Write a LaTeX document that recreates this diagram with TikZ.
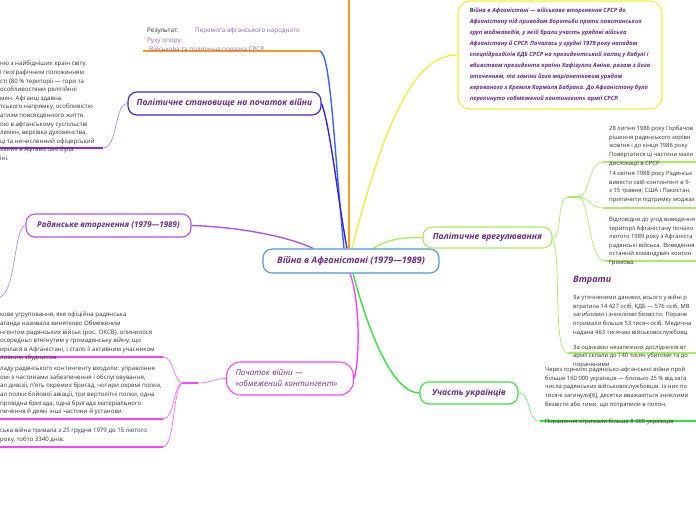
\documentclass[tikz,border=0pt]{standalone}
\usepackage{fontspec}
\setmainfont{Open Sans}
\definecolor{tpurple}{HTML}{6A2C8E}
\definecolor{txt}{HTML}{303030}
\definecolor{lpurple}{HTML}{8E5CC0}
\definecolor{dgreen}{HTML}{1E4A2C}
\definecolor{corange}{HTML}{FF9C1A}
\definecolor{cblue}{HTML}{3366FF}
\definecolor{cindigo}{HTML}{3A22E0}
\definecolor{cyellow}{HTML}{F0F03A}
\definecolor{cviolet}{HTML}{B050FF}
\definecolor{cviodark}{HTML}{A020E8}
\definecolor{cviolight}{HTML}{A890FF}
\definecolor{cmagenta}{HTML}{FF40FF}
\definecolor{cgreen}{HTML}{33E633}
\definecolor{clime}{HTML}{A5F05A}
\definecolor{ccentral}{HTML}{4A98D8}
\pgfdeclarelayer{bg}
\pgfsetlayers{bg,main}
\tikzset{
  topic/.style={draw, fill=white, line width=1.1pt, rounded corners=9pt, inner sep=0pt,
    font=\fontsize{8.5}{10.5}\selectfont\bfseries\itshape, text=tpurple},
  small/.style={inner sep=0pt, anchor=north west, align=left,
    font=\fontsize{6.1}{8.6}\selectfont, text=txt},
  rsmall/.style={small, font=\fontsize{5.85}{8.6}\selectfont},
  conn/.style={line width=1.4pt},
  thinc/.style={line width=0.7pt},
  uline/.style={line width=1.8pt},
}
\begin{document}
\begin{tikzpicture}[x=1pt,y=-1pt]
\useasboundingbox (0,0) rectangle (696,520);

% ---------- main topics ----------
\node[topic, draw=ccentral, minimum width=176pt, minimum height=24pt,
  font=\fontsize{9}{11}\selectfont\bfseries\itshape] (c) at (351,261) {Війна в Афганістані (1979—1989)};
\node[topic, draw=cindigo, minimum width=193pt, minimum height=23pt] (pol) at (224.5,103.5) {Політичне становище на початок війни};
\node[topic, draw=cviolet, minimum width=165pt, minimum height=23pt,
  font=\fontsize{8}{10}\selectfont\bfseries\itshape] (rad) at (108.5,225.5) {Радянське вторгнення (1979—1989)};
\node[topic, draw=cmagenta, minimum width=127pt, minimum height=33pt, rounded corners=14pt,
  align=left, text width=109pt, font=\fontsize{8}{11}\selectfont\itshape] (poch) at (290,378.5) {Початок війни —\\«обмежений контингент»};
\node[topic, draw=cgreen, minimum width=98pt, minimum height=22pt] (uch) at (469,393) {Участь українців};
\node[topic, draw=clime, minimum width=129pt, minimum height=21pt] (vreg) at (487.5,237.5) {Політичне врегулювання};
\node[topic, draw=cyellow, minimum width=204pt, minimum height=108pt, rounded corners=12pt,
  align=left, font=\fontsize{5.8}{11}\selectfont\bfseries\itshape] (yel) at (560,55)
  {{\upshape\color{dgreen}В}ійна в Афганістані — військове вторгнення СРСР до\\
   Афганістану під приводом боротьби проти повстанських\\
   груп моджахедів, у якій брали участь урядові війська\\
   Афганістану й СРСР. Почалась у грудні 1979 року нападом\\
   спецпідрозділів КДБ СРСР на президентський палац у Кабулі і\\
   вбивством президента країни Хафізулли Аміна, разом з його\\
   оточенням, та заміни його маріонетковим урядом\\
   керованого з Кремля Кармаля Бабрака. До Афганістану було\\
   перекинуто «обмежений контингент» армії СРСР.};

% ---------- top: result ----------
\node[small, font=\fontsize{6.3}{9.5}\selectfont] (res) at (147,28) {Результат:};
\node[small, font=\fontsize{6.3}{9.5}\selectfont, text=lpurple] (per) at (195,28) {Перемога афганського народного};
\node[small, font=\fontsize{6.3}{9.5}\selectfont, text=lpurple] (ruh) at (147,38) {Руху опору.};
\node[small, font=\fontsize{6.3}{9.5}\selectfont, text=lpurple] (viy) at (149,47) {Військова та політична поразка СРСР.};
\coordinate (ul0a) at (143,51);
\coordinate (ul0b) at (320,51);
\coordinate (otop) at (349,-3);

% ---------- left top text ----------
\node[small] (lt) at (0,61) {ню з найбідніших країн світу.\\
 і географічним положенням\\
 сті (80 \% території — гори та\\
 особливостями релігійної\\
 мен. Афганці здавна\\
 тського напрямку, особливістю\\
 атизм повсякденного життя.\\
 ою в афганському суспільстві\\
 лемен, верхівка духовенства,\\
 ці та нечисленний офіцерський\\
 ханих в Афганістані була\\
 іні.};
\coordinate (ul1a) at (0,148);
\coordinate (ul1b) at (103,148);
\coordinate (radoff) at (0,297);

% ---------- left lower text ----------
\node[small] (la) at (0,312) {кове угруповання, яке офіційна радянська\\
 аганда називала винятково Обмеженим\\
 нгентом радянських військ (рос. ОКСВ), опинилося\\
 осередньо втягнутим у громадянську війну, що\\
 ирілася в Афганістані, і стало її активним учасником\\
 ловним збудником.};
\node[small] (lb) at (0,366) {ладу радянського контингенту входили: управління\\
 омі з частинами забезпечення і обслуговування,\\
 ал дивізії, п'ять окремих бригад, чотири окремі полки,\\
 ал полки бойової авіації, три вертолітні полки, одна\\
 провідна бригада, одна бригада матеріального\\
 печення й деякі інші частини й установи.};
\node[small] (lc) at (0,428) {ська війна тривала з 25 грудня 1979 до 15 лютого\\
 року, тобто 3340 днів.};
\coordinate (ula) at (163,357);
\coordinate (ulb) at (163,419);
\coordinate (ulc) at (163,447);
\coordinate (hubm1) at (183,383);
\coordinate (hubm2) at (198,383);

% ---------- right text ----------
\node[rsmall] (r1) at (609,126) {28 липня 1986 року Горбачов\\
 рішення радянського керівн\\
 жовтня і до кінця 1986 року\\
 Повертатися ці частини мали\\
 дислокації в СРСР};
\node[rsmall] (r2) at (609,171) {14 квітня 1988 року  Радянськ\\
 вивести свій контингент в 9-\\
 з 15 травня; США і Пакистан,\\
 припинити підтримку моджах};
\node[rsmall] (r3) at (609,217) {Відповідно до угод виведення\\
 території Афганістану почало\\
 лютого 1989 року з Афганіста\\
 радянські війська. Виведення\\
 останній командувач контин\\
 Громова.};
\node[anchor=west, inner sep=0pt, font=\fontsize{9}{11}\selectfont\bfseries\itshape, text=tpurple] (vtr) at (573,280) {Втрати};
\node[rsmall] (r4) at (573,295) {За уточненими даними, всього у війні р\\
 втратила 14 427 осіб, КДБ — 576 осіб, МВ\\
 загиблими і зниклими безвісти. Поране\\
 отримали більше 53 тисяч осіб. Медична\\
 надана 463 тисячам військовослужбовц\\[6.5pt]
 За оцінками незалежних дослідників вт\\
 армії склали до 140 тисяч убитими та до\\
 пораненими};
\node[rsmall] (r5) at (545,367) {Через горнило радянсько-афганської війни прой\\
 більше 160 000 українців — близько 25 \% від зага\\
 числа радянських військовослужбовців. Із них по\\
 тисячі загинули[6], десятки вважаються зниклими\\
 безвісти або тими, що потрапили в полон.\\[8.6pt]
 Поранення отримали більше 8 000 українців};

\coordinate (hubl1) at (568,197);
\coordinate (hubl2) at (578,197);
\coordinate (u1) at (603,162);
\coordinate (u1e) at (696,162);
\coordinate (u2) at (603,208);
\coordinate (u2e) at (696,208);
\coordinate (u3) at (605,261);
\coordinate (u3e) at (696,261);
\coordinate (u4) at (568,353);
\coordinate (u4e) at (696,353);
\coordinate (u5) at (540,421);
\coordinate (u5e) at (696,421);

% ---------- connectors ----------
\begin{pgfonlayer}{bg}
\draw[conn, corange] ([xshift=-2pt]c.north) -- (otop);
\draw[uline, corange] (ul0a) -- (ul0b);
\draw[conn, cblue] (ul0b) .. controls (331,55) and (334,150) .. ([xshift=-7pt]c.north);
\draw[conn, cindigo] (pol.east) .. controls (330,125) and (338,200) .. ([xshift=-4pt]c.north);
\draw[conn, cyellow] ([xshift=1pt]c.north) .. controls (380,140) and (410,54) .. (yel.west);
\draw[conn, cviolet] (rad.east) .. controls (240,227) and (290,237) .. ([xshift=-38pt]c.north);
\draw[conn, clime] ([xshift=22pt]c.north) .. controls (390,238) and (405,237.5) .. (vreg.west);
\draw[conn, cmagenta] ([xshift=-1pt]c.south) .. controls (360,300) and (360,360) .. (poch.east);
\draw[conn, cgreen] ([xshift=2pt]c.south) .. controls (368,330) and (392,393) .. (uch.west);

% sub connectors
\draw[thinc, cviolight] (pol.west) .. controls (114,104) and (118,148) .. (ul1b);
\draw[uline, cviodark] (ul1a) -- (ul1b);
\draw[thinc, cviolight] (rad.west) .. controls (14,226) and (16,292) .. (radoff);

\draw[thinc, cmagenta!80] (poch.west) .. controls (212,378.5) and (212,383) .. (hubm2);
\draw[uline, cmagenta] (hubm1) -- (hubm2);
\draw[thinc, cmagenta!80] (hubm1) .. controls (173,383) and (175,357) .. (ula);
\draw[thinc, cmagenta!80] (hubm1) .. controls (173,383) and (175,419) .. (ulb);
\draw[thinc, cmagenta!80] (hubm1) .. controls (173,383) and (175,447) .. (ulc);
\draw[uline, cmagenta] (0,357) -- (ula);
\draw[uline, cmagenta] (0,419) -- (ulb);
\draw[uline, cmagenta] (0,447) -- (ulc);

\draw[thinc, cgreen!70] (uch.east) .. controls (532,393) and (526,421) .. (u5);
\draw[uline, cgreen] (u5) -- (u5e);

\draw[thinc, clime] (vreg.east) .. controls (563,237) and (556,197) .. (hubl1);
\draw[uline, clime] (hubl1) -- (hubl2);
\draw[thinc, clime] (hubl2) .. controls (590,197) and (588,162) .. (u1);
\draw[thinc, clime] (hubl2) .. controls (590,197) and (590,208) .. (u2);
\draw[thinc, clime] (hubl2) .. controls (590,197) and (588,261) .. (u3);
\draw[thinc, clime] (vreg.east) .. controls (562,260) and (552,353) .. (u4);
\draw[uline, clime] (u1) -- (u1e);
\draw[uline, clime] (u2) -- (u2e);
\draw[uline, clime] (u3) -- (u3e);
\draw[uline, clime] (u4) -- (u4e);
\end{pgfonlayer}
\end{tikzpicture}
\end{document}
